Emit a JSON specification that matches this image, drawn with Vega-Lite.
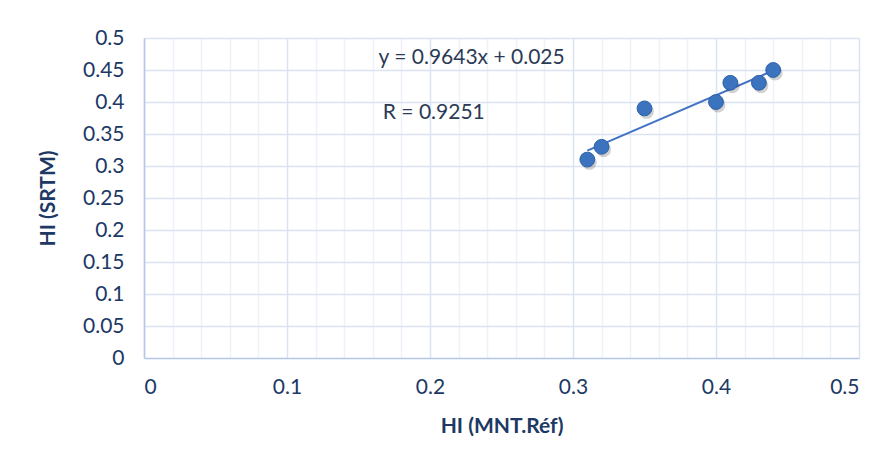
{
  "$schema": "https://vega.github.io/schema/vega-lite/v6.json",
  "autosize": {"type": "none"},
  "width": 715,
  "height": 320,
  "padding": {"left": 144, "top": 38, "right": 37, "bottom": 112},
  "background": "white",
  "config": {
    "view": {"stroke": null},
    "font": "Lato",
    "axis": {"labelFont": "Lato", "titleFont": "Lato"}
  },
  "datasets": {
    "pts": [
      {"mnt": 0.31, "srtm": 0.31},
      {"mnt": 0.32, "srtm": 0.33},
      {"mnt": 0.35, "srtm": 0.39},
      {"mnt": 0.40, "srtm": 0.40},
      {"mnt": 0.41, "srtm": 0.43},
      {"mnt": 0.43, "srtm": 0.43},
      {"mnt": 0.44, "srtm": 0.45}
    ],
    "trend": [
      {"mnt": 0.31, "srtm": 0.324},
      {"mnt": 0.44, "srtm": 0.449}
    ],
    "labels": [
      {"mnt": 0.164, "srtm": 0.469, "txt": "y = 0.9643x + 0.025"},
      {"mnt": 0.167, "srtm": 0.383, "txt": "R = 0.9251"}
    ]
  },
  "resolve": {"axis": {"x": "independent", "y": "independent"}},
  "layer": [
    {
      "data": {"name": "pts"},
      "mark": {"type": "point", "opacity": 0},
      "encoding": {
        "x": {"field": "mnt", "type": "quantitative",
          "scale": {"domain": [0, 0.5], "nice": false, "zero": false},
          "axis": {"orient": "top", "values": [0.02,0.04,0.06,0.08,0.12,0.14,0.16,0.18,0.22,0.24,0.26,0.28,0.32,0.34,0.36,0.38,0.42,0.44,0.46,0.48],
            "grid": true, "gridColor": "#EDF2FA", "gridWidth": 1.5, "labels": false, "ticks": false, "domain": false, "title": null}},
        "y": {"field": "srtm", "type": "quantitative",
          "scale": {"domain": [0, 0.5], "nice": false, "zero": false},
          "axis": {"orient": "right", "values": [0.05,0.1,0.15,0.2,0.25,0.3,0.35,0.4,0.45,0.5], "grid": true, "gridColor": "#DAE3F3", "gridWidth": 1.5, "labels": false, "ticks": false, "domain": false, "title": null}}
      }
    },
    {
      "data": {"name": "pts"},
      "mark": {"type": "point", "opacity": 0},
      "encoding": {
        "x": {"field": "mnt", "type": "quantitative",
          "scale": {"domain": [0, 0.5], "nice": false, "zero": false},
          "axis": {"orient": "bottom", "values": [0, 0.1, 0.2, 0.3, 0.4, 0.5], "format": "~g", "grid": true, "gridColor": "#DAE3F3", "gridWidth": 1.5,
            "ticks": false, "domain": true, "domainColor": "#B4C7E7", "domainWidth": 1.5,
            "labelFontSize": 21, "labelColor": "#203864", "labelPadding": 18,
            "title": "HI (MNT.Réf)", "titleFontSize": 21, "titleFontWeight": "bold", "titleColor": "#203864", "titlePadding": 18}},
        "y": {"field": "srtm", "type": "quantitative",
          "scale": {"domain": [0, 0.5], "nice": false, "zero": false},
          "axis": {"orient": "left", "values": [0,0.05,0.1,0.15,0.2,0.25,0.3,0.35,0.4,0.45,0.5], "format": "~g", "grid": false,
            "ticks": false, "domain": true, "domainColor": "#B4C7E7", "domainWidth": 1.5,
            "labelFontSize": 21, "labelColor": "#203864", "labelPadding": 20,
            "title": "HI (SRTM)", "titleFontSize": 21, "titleFontWeight": "bold", "titleColor": "#203864", "titlePadding": 24}}
      }
    },
    {
      "data": {"name": "trend"},
      "mark": {"type": "line", "color": "#4472C4", "strokeWidth": 2},
      "encoding": {
        "x": {"field": "mnt", "type": "quantitative", "axis": null},
        "y": {"field": "srtm", "type": "quantitative", "axis": null}
      }
    },
    {
      "data": {"name": "pts"},
      "mark": {"type": "point", "filled": true, "shape": "circle", "size": 220, "color": "#000000", "opacity": 0.18, "xOffset": 2, "yOffset": 3},
      "encoding": {
        "x": {"field": "mnt", "type": "quantitative", "axis": null},
        "y": {"field": "srtm", "type": "quantitative", "axis": null}
      }
    },
    {
      "data": {"name": "pts"},
      "mark": {"type": "point", "filled": true, "shape": "circle", "size": 220, "color": "#3B73BE", "opacity": 1, "stroke": "#2F62A8", "strokeWidth": 1},
      "encoding": {
        "x": {"field": "mnt", "type": "quantitative", "axis": null},
        "y": {"field": "srtm", "type": "quantitative", "axis": null}
      }
    },
    {
      "data": {"name": "labels"},
      "mark": {"type": "text", "align": "left", "baseline": "middle", "fontSize": 21, "color": "#2B3A55", "font": "Lato"},
      "encoding": {
        "x": {"field": "mnt", "type": "quantitative", "axis": null},
        "y": {"field": "srtm", "type": "quantitative", "axis": null},
        "text": {"field": "txt"}
      }
    }
  ]
}
